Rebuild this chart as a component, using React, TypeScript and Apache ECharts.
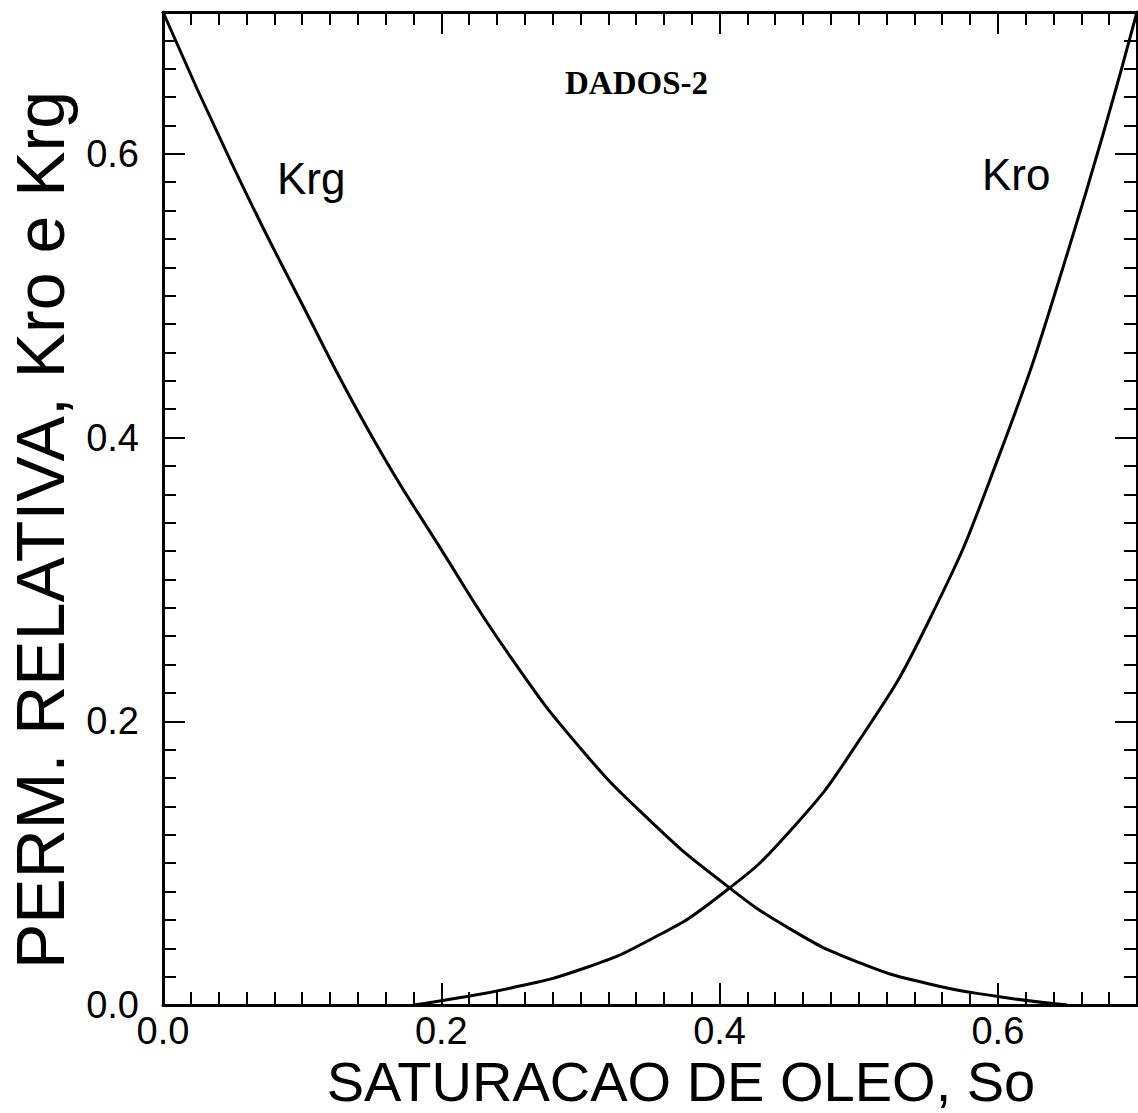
import React, { useEffect, useRef } from "react";
import * as echarts from "echarts";

// ---- data ----
const axisMin = 0;
const axisMax = 0.7;
const majorStep = 0.2;
const minorStep = 0.02;

const krgSo = [0.0, 0.05, 0.1, 0.15, 0.2, 0.25, 0.3, 0.35, 0.4, 0.45, 0.5, 0.55, 0.6, 0.65];
const krgVal = [0.7, 0.592, 0.494, 0.401, 0.321, 0.245, 0.181, 0.13, 0.088, 0.054, 0.03, 0.015, 0.006, 0.0];

const kroSo = [0.18, 0.2, 0.25, 0.3, 0.35, 0.4, 0.45, 0.5, 0.55, 0.6, 0.65, 0.7];
const kroVal = [0.0, 0.003, 0.012, 0.025, 0.046, 0.077, 0.122, 0.186, 0.27, 0.385, 0.53, 0.7];

const seriesNames = ["Krg", "Kro"];
const chartTitle = "DADOS-2";
const xTitle = "SATURACAO DE OLEO, So";
const yTitle = "PERM. RELATIVA, Kro e Krg";

const SANS = "'Liberation Sans', Arial, sans-serif";
const SERIF = "'Liberation Serif', 'Times New Roman', serif";

function pairs(xs: number[], ys: number[]) {
  return xs.map((x, i) => [x, ys[i]]);
}

export default function App() {
  const ref = useRef<HTMLDivElement>(null);

  useEffect(() => {
    if (!ref.current) return;
    const chart = echarts.init(ref.current, null, { renderer: "svg" });

    const black = "#000";
    const fmt = (v: number) => v.toFixed(1);

    const majorAxis = (pos: string, extra: any = {}) => ({
      type: "value",
      position: pos,
      min: axisMin,
      max: axisMax,
      interval: majorStep,
      axisLine: { show: true, onZero: false, lineStyle: { color: black, width: 3 } },
      axisTick: { show: true, inside: true, length: 22, lineStyle: { color: black, width: 2 } },
      axisLabel: { show: false },
      splitLine: { show: false },
      ...extra,
    });
    const minorAxis = (pos: string) => ({
      type: "value",
      position: pos,
      min: axisMin,
      max: axisMax,
      interval: minorStep,
      axisLine: { show: false, onZero: false },
      axisTick: { show: true, inside: true, length: 13, lineStyle: { color: black, width: 2 } },
      axisLabel: { show: false },
      splitLine: { show: false },
    });

    chart.setOption({
      animation: false,
      backgroundColor: "#fff",
      grid: {
        left: 163,
        right: 1,
        top: 12,
        bottom: 108,
        containLabel: false,
        outerBoundsMode: "none",
      },
      xAxis: [
        majorAxis("bottom", {
          axisLabel: {
            show: true,
            color: black,
            fontSize: 38,
            fontFamily: SANS,
            formatter: fmt,
            showMaxLabel: false,
            margin: 7,
          },
        }),
        minorAxis("bottom"),
        majorAxis("top"),
        minorAxis("top"),
      ],
      yAxis: [
        majorAxis("left", {
          axisLabel: {
            show: true,
            color: black,
            fontSize: 38,
            fontFamily: SANS,
            formatter: fmt,
            showMaxLabel: false,
            margin: 24,
          },
        }),
        minorAxis("left"),
        majorAxis("right"),
        minorAxis("right"),
      ],
      graphic: [
        {
          type: "text",
          x: 681,
          y: 1081,
          style: {
            text: xTitle,
            font: `56px ${SANS}`,
            fill: black,
            align: "center",
            verticalAlign: "middle",
          },
        },
        {
          type: "text",
          x: 40,
          y: 530,
          rotation: Math.PI / 2,
          style: {
            text: yTitle,
            font: `68px ${SANS}`,
            fill: black,
            align: "center",
            verticalAlign: "middle",
          },
        },
        {
          type: "text",
          left: 565,
          top: 66,
          style: { text: chartTitle, font: `bold 33px ${SERIF}`, fill: black },
        },
        {
          type: "text",
          left: 277,
          top: 156,
          style: { text: seriesNames[0], font: `44px ${SANS}`, fill: black },
        },
        {
          type: "text",
          left: 982,
          top: 152,
          style: { text: seriesNames[1], font: `44px ${SANS}`, fill: black },
        },
      ],
      series: [
        {
          name: seriesNames[0],
          type: "line",
          xAxisIndex: 0,
          yAxisIndex: 0,
          data: pairs(krgSo, krgVal),
          showSymbol: false,
          smooth: 0.5,
          lineStyle: { color: black, width: 3 },
        },
        {
          name: seriesNames[1],
          type: "line",
          xAxisIndex: 0,
          yAxisIndex: 0,
          data: pairs(kroSo, kroVal),
          showSymbol: false,
          smooth: 0.5,
          lineStyle: { color: black, width: 3 },
        },
      ],
    });

    return () => chart.dispose();
  }, []);

  return (
    <div
      ref={ref}
      style={{ position: "absolute", left: 0, top: 0, width: 1138, height: 1113, background: "#fff" }}
    />
  );
}
